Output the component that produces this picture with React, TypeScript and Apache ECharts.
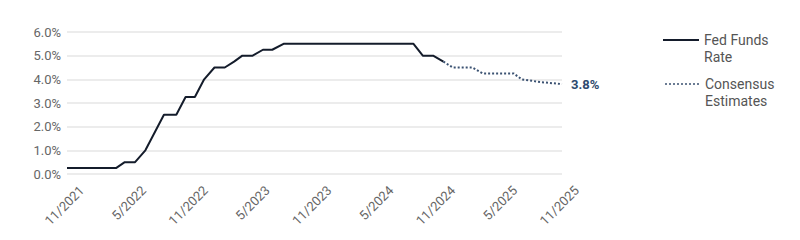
import React, { useEffect, useRef } from "react";
import * as echarts from "echarts";

// x values are months since 11/2021
const xTickLabels = ["11/2021", "5/2022", "11/2022", "5/2023", "11/2023", "5/2024", "11/2024", "5/2025", "11/2025"];

const fedMonths = [0, 4.75, 5.6, 6.6, 7.6, 9.4, 10.6, 11.5, 12.4, 13.3, 14.3, 15.3, 16.2, 17.0, 18.0, 19.0, 19.9, 21.0, 33.6, 34.5, 35.5, 36.5];
const fedRates = [0.25, 0.25, 0.5, 0.5, 1.0, 2.5, 2.5, 3.25, 3.25, 4.0, 4.5, 4.5, 4.75, 5.0, 5.0, 5.25, 5.25, 5.5, 5.5, 5.0, 5.0, 4.75];

const estMonths = [36.5, 37.4, 39.3, 40.3, 43.3, 44.1, 46.0, 48.0];
const estRates = [4.75, 4.5, 4.5, 4.25, 4.25, 4.0, 3.88, 3.8];

const yTicks = [0, 1, 2, 3, 4, 5, 6];

const FONT = "Roboto, 'Noto Sans', sans-serif";

export default function App() {
  const ref = useRef<HTMLDivElement>(null);
  useEffect(() => {
    if (!ref.current) return;
    const chart = echarts.init(ref.current, null, { renderer: "svg" });
    chart.setOption({
      animation: false,
      textStyle: { fontFamily: FONT },
      grid: { left: 67, right: 238, top: 32, bottom: 66 },
      xAxis: {
        type: "value",
        min: 0,
        max: 48,
        interval: 6,
        axisLine: { show: false },
        axisTick: { show: false },
        splitLine: { show: false },
        axisLabel: {
          rotate: 45,
          color: "#666",
          fontSize: 13,
          fontFamily: FONT,
          margin: 29,
          padding: [0, -21, 0, 0],
          hideOverlap: false,
          formatter: (v: number) => xTickLabels[Math.round(v / 6)] ?? "",
        },
      },
      yAxis: {
        type: "value",
        min: yTicks[0],
        max: yTicks[yTicks.length - 1],
        interval: 1,
        axisLine: { show: false },
        axisTick: { show: false },
        splitLine: { lineStyle: { color: "#e6e6e6", width: 1.5 } },
        axisLabel: {
          color: "#666",
          fontSize: 13,
          fontFamily: FONT,
          margin: 6,
          formatter: (v: number) => v.toFixed(1) + "%",
        },
      },
      series: [
        {
          name: "Fed Funds Rate",
          type: "line",
          symbol: "none",
          data: fedMonths.map((m, i) => [m, fedRates[i]]),
          lineStyle: { color: "#141c2b", width: 2 },
        },
        {
          name: "Consensus Estimates",
          type: "line",
          symbol: "none",
          data: estMonths.map((m, i) => [m, estRates[i]]),
          lineStyle: { color: "#3b5272", width: 2, type: [2, 2] },
          endLabel: {
            show: true,
            formatter: (p: any) => p.value[1].toFixed(1) + "%",
            color: "#2e4a6e",
            fontWeight: "bold",
            fontSize: 13,
            fontFamily: FONT,
            distance: 9,
          },
        },
      ],
      graphic: [
        { type: "line", shape: { x1: 663, y1: 40, x2: 699, y2: 40 }, style: { stroke: "#141c2b", lineWidth: 2 } },
        { type: "text", left: 704, top: 31, style: { text: "Fed Funds\nRate", fill: "#555", font: `14px ${FONT}`, lineHeight: 17 } },
        { type: "line", shape: { x1: 665, y1: 84, x2: 701, y2: 84 }, style: { stroke: "#3b5272", lineWidth: 1.5, lineDash: [2, 2] } },
        { type: "text", left: 705, top: 75, style: { text: "Consensus\nEstimates", fill: "#555", font: `14px ${FONT}`, lineHeight: 17 } },
      ],
    });
    return () => chart.dispose();
  }, []);
  return <div ref={ref} style={{ width: 800, height: 240, position: "absolute", left: 0, top: 0 }} />;
}
